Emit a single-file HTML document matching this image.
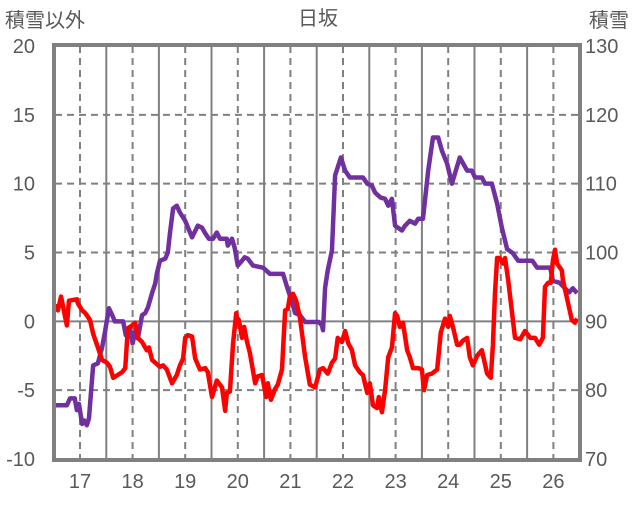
<!DOCTYPE html>
<html><head><meta charset="utf-8"><style>
body{margin:0;background:#fff;}
svg text{font-family:"Liberation Sans","Noto Sans CJK JP",sans-serif;fill:#595959;}
</style></head><body>
<svg id="c" width="636" height="501" xmlns="http://www.w3.org/2000/svg">
<text x="318" y="25" font-size="20" text-anchor="middle">日坂</text>
<text x="5" y="27" font-size="20">積雪以外</text>
<text x="589" y="27" font-size="20">積雪</text>
<g id="grid"></g><g id="series"></g><g id="axes"></g>
</svg>
<script>
const xTicks=[17,18,19,20,21,22,23,24,25,26];
const leftTicks=[20,15,10,5,0,-5,-10];
const rightTicks=[130,120,110,100,90,80,70];
const redDays=[16.52,16.58,16.64,16.75,16.79,16.94,16.96,17.04,17.10,17.19,17.25,17.34,17.42,17.51,17.57,17.63,17.80,17.86,17.91,17.99,18.05,18.10,18.18,18.27,18.31,18.37,18.43,18.52,18.58,18.65,18.75,18.84,18.90,18.96,19.00,19.05,19.13,19.19,19.28,19.38,19.43,19.51,19.60,19.70,19.76,19.79,19.85,19.91,19.97,19.98,20.02,20.08,20.12,20.17,20.23,20.33,20.38,20.46,20.54,20.57,20.63,20.71,20.76,20.84,20.90,20.95,20.99,21.05,21.11,21.18,21.28,21.37,21.47,21.54,21.56,21.62,21.71,21.79,21.85,21.90,21.98,22.04,22.10,22.17,22.23,22.32,22.38,22.46,22.51,22.57,22.65,22.68,22.74,22.80,22.86,22.93,22.99,23.03,23.08,23.14,23.22,23.27,23.33,23.43,23.50,23.54,23.60,23.69,23.79,23.86,23.94,24.00,24.03,24.09,24.17,24.22,24.28,24.36,24.41,24.47,24.55,24.64,24.74,24.81,24.85,24.89,24.93,24.98,25.04,25.08,25.14,25.27,25.37,25.46,25.56,25.65,25.73,25.80,25.84,25.90,25.95,25.99,26.03,26.07,26.16,26.18,26.28,26.35,26.41,26.45];
const redValues=[1.2,0.8,1.8,-0.3,1.5,1.6,1.3,0.8,0.6,0.1,-0.9,-1.9,-2.8,-3.0,-3.3,-4.1,-3.7,-3.4,-0.5,-0.3,-0.1,-1.2,-1.5,-2.1,-1.9,-2.8,-3.0,-3.3,-3.2,-3.5,-4.5,-3.9,-3.2,-2.7,-1.2,-1.0,-1.1,-2.7,-3.5,-3.4,-3.7,-5.5,-4.3,-4.8,-6.5,-5.2,-5.1,-1.6,0.6,0.3,0.1,-1.2,-0.4,-1.4,-2.3,-4.5,-4.0,-3.9,-5.5,-4.5,-5.7,-4.9,-4.6,-3.5,0.8,0.9,1.8,2.0,1.5,0.3,-2.6,-4.6,-4.8,-3.8,-3.5,-3.4,-3.8,-3.0,-2.7,-1.2,-1.5,-0.7,-1.6,-2.1,-3.2,-3.7,-3.9,-5.2,-4.5,-6.1,-6.3,-5.5,-6.6,-5.0,-2.6,-1.9,0.6,0.4,-0.4,-0.1,-2.1,-2.6,-3.4,-3.4,-3.5,-5.0,-3.9,-3.8,-3.5,-0.8,0.2,-0.4,0.4,-0.4,-1.7,-1.7,-1.4,-1.2,-2.6,-3.2,-2.5,-2.1,-3.8,-4.1,-1.7,2.1,4.6,4.6,4.2,4.6,3.0,-1.2,-1.3,-0.7,-1.2,-1.2,-1.7,-1.2,2.5,2.8,2.8,4.4,5.2,4.2,3.7,3.0,1.3,0.1,-0.1,0.2];
const snowDays=[16.52,16.75,16.81,16.90,16.94,16.98,17.04,17.08,17.13,17.17,17.25,17.34,17.42,17.48,17.55,17.63,17.66,17.82,17.87,17.91,17.95,18.00,18.06,18.10,18.18,18.24,18.29,18.37,18.43,18.46,18.52,18.62,18.67,18.71,18.77,18.84,18.90,19.00,19.13,19.24,19.32,19.38,19.45,19.53,19.60,19.66,19.79,19.81,19.89,19.94,20.00,20.08,20.13,20.19,20.29,20.48,20.61,20.86,20.94,21.03,21.09,21.18,21.28,21.54,21.60,21.62,21.66,21.71,21.79,21.85,21.96,22.04,22.13,22.38,22.46,22.55,22.61,22.71,22.80,22.86,22.93,22.99,23.12,23.18,23.27,23.37,23.43,23.52,23.62,23.71,23.81,23.88,23.98,24.07,24.22,24.36,24.45,24.51,24.64,24.70,24.83,24.93,25.02,25.12,25.23,25.33,25.60,25.69,25.94,25.99,26.12,26.22,26.30,26.37,26.45];
const snowValues=[77.8,77.8,78.8,78.8,77.1,78,75.1,75.6,74.9,75.9,83.6,83.9,86.2,88.7,91.9,90.6,90,90,88,88,89.1,86.8,88.9,87.5,90.9,91.2,92,94.1,95.5,96.9,98.8,99.1,100,102.8,106.4,106.8,105.8,104.6,102.2,103.9,103.6,102.8,102,102,102.9,102,102,101,102,100.7,98.1,98.8,99.3,99.1,98.1,97.8,96.9,96.9,94.9,92.8,91.2,90.9,89.9,89.9,89.4,88.7,94.9,97.4,100.3,111.2,113.8,111.9,110.9,110.9,110,109.7,108.7,108,107.8,106.8,107.8,103.9,103.2,103.9,104.6,104.2,104.9,104.9,111.9,116.7,116.7,114.8,112.9,110,113.8,111.9,111.9,110.9,110.9,110,110,107.1,103.6,100.5,99.9,98.8,98.8,97.8,97.8,95.9,95.6,94.8,94.2,94.8,94.1];

const L=55,R=579,T=46,B=459;
const xs=d=>80+(d-17)*52.6;
const yl=v=>T+(20-v)*(B-T)/30;
const yr=v=>T+(130-v)*(B-T)/60;
const NS="http://www.w3.org/2000/svg";
function mk(parent,tag,attrs){const e=document.createElementNS(NS,tag);for(const k in attrs)e.setAttribute(k,attrs[k]);document.getElementById(parent).appendChild(e);return e;}
xTicks.forEach(t=>{
  const g=mk('grid','line',{x1:xs(t),x2:xs(t),y1:T,y2:B,stroke:'#808080','stroke-width':2,'stroke-dasharray':'7,5'});
  
  
  const h=xs(t)+26.3;
  if(h<R-2){const s=mk('grid','line',{x1:h,x2:h,y1:T,y2:B,stroke:'#808080','stroke-width':2});
  
  }
  const tx=mk('axes','text',{x:xs(t),y:488,'font-size':20,'text-anchor':'middle'});tx.textContent=t;
  
  
});
const h0=xs(17)-26.3;
const s0=mk('grid','line',{x1:h0,x2:h0,y1:T,y2:B,stroke:'#808080','stroke-width':2});


leftTicks.forEach(t=>{
  if(t!==20&&t!==-10){const g=mk('grid','line',{x1:L,x2:R,y1:yl(t),y2:yl(t),stroke:'#808080','stroke-width':2,'stroke-dasharray':t===0?'':'7,5'});
  
  }
  const tx=mk('axes','text',{x:35,y:yl(t)+7,'font-size':20,'text-anchor':'end'});tx.textContent=t;
  
  
});
rightTicks.forEach(t=>{
  const tx=mk('axes','text',{x:585,y:yr(t)+7,'font-size':20});tx.textContent=t;
  
  
});
const fr=mk('axes','rect',{x:L-1,y:T-1,width:R-L+2,height:B-T+2,fill:'none',stroke:'#808080','stroke-width':4});


const pr=mk('series','polyline',{points:snowDays.map((d,i)=>xs(d)+','+yr(snowValues[i])).join(' '),fill:'none',stroke:'#7030a0','stroke-width':4.5,'stroke-linejoin':'round'});


const rd=mk('series','polyline',{points:redDays.map((d,i)=>xs(d)+','+yl(redValues[i])).join(' '),fill:'none',stroke:'#ff0000','stroke-width':4.5,'stroke-linejoin':'round'});


</script>
</body></html>
